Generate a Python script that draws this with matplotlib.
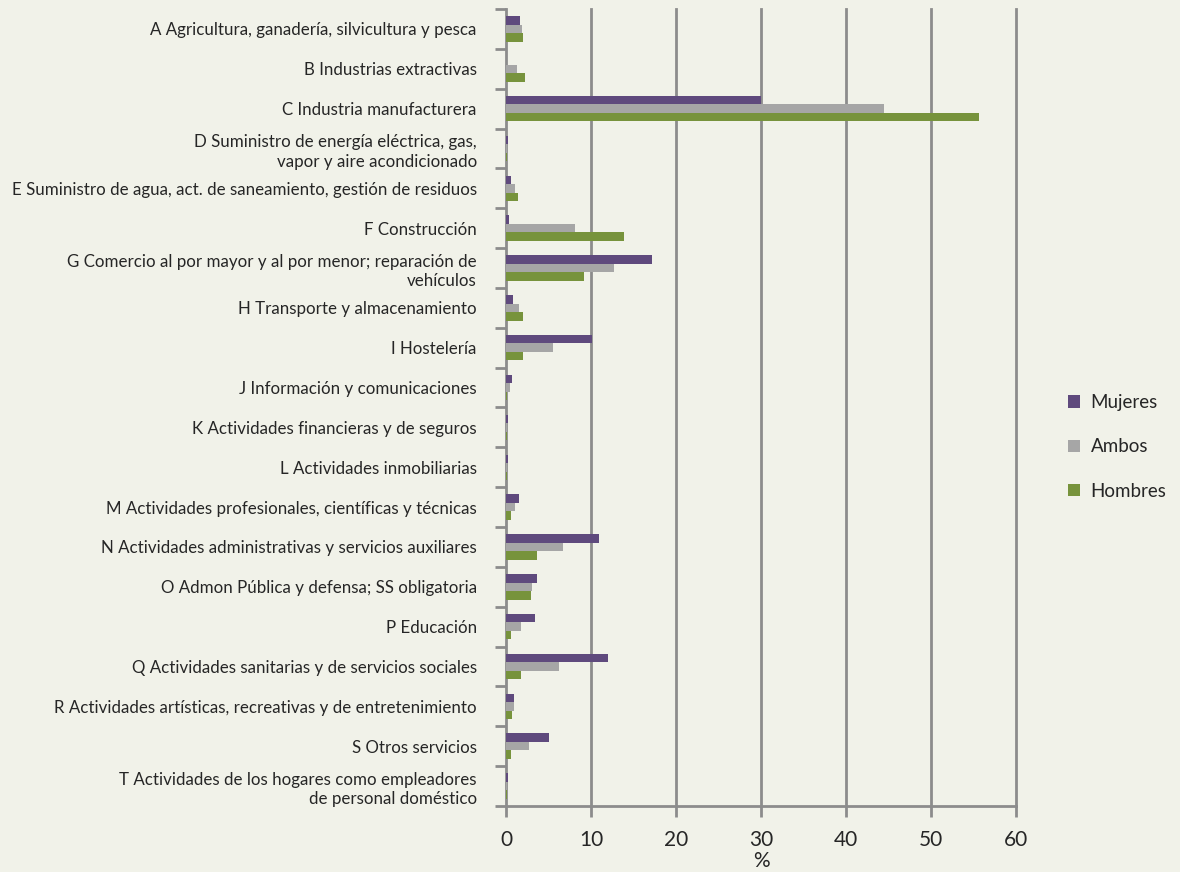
import matplotlib
matplotlib.use("Agg")
import matplotlib.pyplot as plt
import numpy as np
from matplotlib.patches import Patch

categories = [
    "A Agricultura, ganadería, silvicultura y pesca",
    "B Industrias extractivas",
    "C Industria manufacturera",
    "D Suministro de energía eléctrica, gas,\nvapor y aire acondicionado",
    "E Suministro de agua, act. de saneamiento, gestión de residuos",
    "F Construcción",
    "G Comercio al por mayor y al por menor; reparación de\nvehículos",
    "H Transporte y almacenamiento",
    "I Hostelería",
    "J Información y comunicaciones",
    "K Actividades financieras y de seguros",
    "L Actividades inmobiliarias",
    "M Actividades profesionales, científicas y técnicas",
    "N Actividades administrativas y servicios auxiliares",
    "O Admon Pública y defensa; SS obligatoria",
    "P Educación",
    "Q Actividades sanitarias y de servicios sociales",
    "R Actividades artísticas, recreativas y de entretenimiento",
    "S Otros servicios",
    "T Actividades de los hogares como empleadores\nde personal doméstico",
]

mujeres = [1.6, 0.0, 30.0, 0.2, 0.6, 0.35, 17.2, 0.8, 10.15, 0.7, 0.2, 0.2,
           1.55, 10.9, 3.6, 3.4, 12.05, 0.95, 5.05, 0.2]
ambos = [1.9, 1.3, 44.5, 0.1, 1.05, 8.1, 12.75, 1.5, 5.5, 0.45, 0.1, 0.1,
         1.05, 6.65, 3.1, 1.75, 6.2, 0.95, 2.7, 0.1]
hombres = [2.0, 2.2, 55.7, 0.15, 1.4, 13.9, 9.2, 2.0, 2.0, 0.15, 0.15, 0.15,
           0.6, 3.6, 2.9, 0.6, 1.75, 0.7, 0.6, 0.15]

series_names = ["Mujeres", "Ambos", "Hombres"]
colors = ["#5f4a7d", "#a6a6a6", "#77933c"]
xticks = [0, 10, 20, 30, 40, 50, 60]

bg = "#f1f2e9"
gridc = "#8c8c8c"
textc = "#262626"

plt.rcParams["font.family"] = ["Lato", "DejaVu Sans"]

fig = plt.figure(figsize=(11.8, 8.72), dpi=100, facecolor=bg)
ax = fig.add_axes([506/1180, 1-806/872, 510/1180, 797/872])
ax.set_facecolor(bg)

n = len(categories)
y = np.arange(n)
h = 0.213
for k, (vals, c) in enumerate(zip([mujeres, ambos, hombres], colors)):
    ax.barh(y + (k - 1) * h, vals, height=h, color=c, edgecolor="none", zorder=3)

ax.set_ylim(n - 0.5, -0.5)
ax.set_xlim(0, 60)
ax.set_xticks(xticks)
ax.set_xticklabels([str(t) for t in xticks], fontsize=15, color=textc)
ax.set_yticks(y)
ax.set_yticklabels(categories, fontsize=12.2, color=textc, linespacing=1.3)
ax.tick_params(axis="y", length=0, pad=21)
ax.set_yticks(np.arange(n + 1) - 0.5, minor=True)
ax.tick_params(axis="y", which="minor", length=8, width=2, color=gridc, direction="out")
ax.tick_params(axis="x", length=8, width=2, color=gridc, direction="out", pad=9)

for s in ["top", "right"]:
    ax.spines[s].set_visible(False)
for s in ["left", "bottom"]:
    ax.spines[s].set_color(gridc)
    ax.spines[s].set_linewidth(2)

for t in xticks[1:]:
    ax.axvline(t, color=gridc, linewidth=2, zorder=1, clip_on=False)

ax.set_xlabel("%", fontsize=15, color=textc, labelpad=1)

handles = [Patch(facecolor=c, edgecolor="none") for c in colors]
leg = fig.legend(handles, series_names, loc="center left",
                 bbox_to_anchor=(1068/1180, 1-447/872), frameon=False,
                 fontsize=13.5, handlelength=0.65, handleheight=0.65,
                 labelspacing=1.45, handletextpad=0.55, borderaxespad=0, borderpad=0)
for t in leg.get_texts():
    t.set_color(textc)

fig.savefig("out.png", dpi=100, facecolor=bg)
